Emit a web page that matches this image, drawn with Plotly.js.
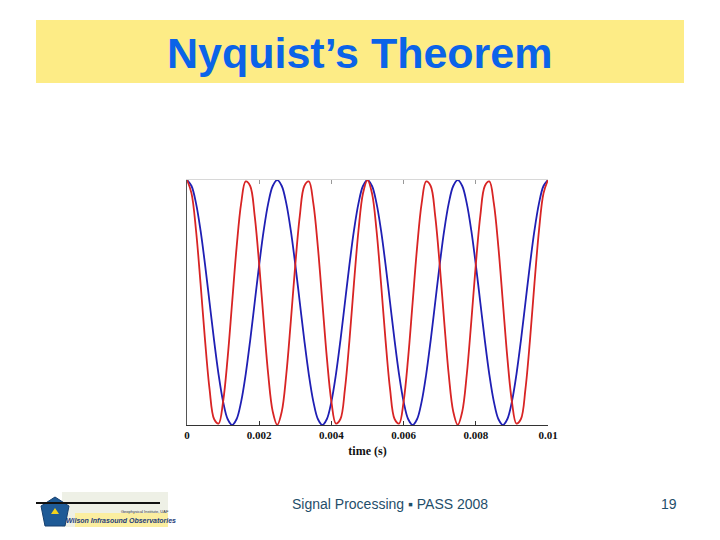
<!DOCTYPE html>
<html>
<head>
<meta charset="utf-8">
<script src="https://cdn.plot.ly/plotly-3.0.1.min.js"></script>
<style>html,body{margin:0;padding:0;background:#fff;}#chart{width:720px;height:540px;}</style>
</head>
<body>
<div id="chart"></div>
<script>
// time samples (s)
var timeS = [
0,0.000125,0.00025,0.000375,0.0005,0.000625,0.00075,0.000875,0.001,0.001125,
0.00125,0.001375,0.0015,0.001625,0.00175,0.001875,0.002,0.002125,0.00225,0.002375,
0.0025,0.002625,0.00275,0.002875,0.003,0.003125,0.00325,0.003375,0.0035,0.003625,
0.00375,0.003875,0.004,0.004125,0.00425,0.004375,0.0045,0.004625,0.00475,0.004875,
0.005,0.005125,0.00525,0.005375,0.0055,0.005625,0.00575,0.005875,0.006,0.006125,
0.00625,0.006375,0.0065,0.006625,0.00675,0.006875,0.007,0.007125,0.00725,0.007375,
0.0075,0.007625,0.00775,0.007875,0.008,0.008125,0.00825,0.008375,0.0085,0.008625,
0.00875,0.008875,0.009,0.009125,0.00925,0.009375,0.0095,0.009625,0.00975,0.009875,
0.01];
// red curve (600 Hz tone)
var redValues = [
1,0.891,0.588,0.156,-0.309,-0.707,-0.951,-0.988,-0.809,-0.454,
0,0.454,0.809,0.988,0.951,0.707,0.309,-0.156,-0.588,-0.891,
-1,-0.891,-0.588,-0.156,0.309,0.707,0.951,0.988,0.809,0.454,
0,-0.454,-0.809,-0.988,-0.951,-0.707,-0.309,0.156,0.588,0.891,
1,0.891,0.588,0.156,-0.309,-0.707,-0.951,-0.988,-0.809,-0.454,
0,0.454,0.809,0.988,0.951,0.707,0.309,-0.156,-0.588,-0.891,
-1,-0.891,-0.588,-0.156,0.309,0.707,0.951,0.988,0.809,0.454,
0,-0.454,-0.809,-0.988,-0.951,-0.707,-0.309,0.156,0.588,0.891,
1];
// blue curve (400 Hz tone)
var blueValues = [
1,0.951,0.809,0.588,0.309,0,-0.309,-0.588,-0.809,-0.951,
-1,-0.951,-0.809,-0.588,-0.309,0,0.309,0.588,0.809,0.951,
1,0.951,0.809,0.588,0.309,0,-0.309,-0.588,-0.809,-0.951,
-1,-0.951,-0.809,-0.588,-0.309,0,0.309,0.588,0.809,0.951,
1,0.951,0.809,0.588,0.309,0,-0.309,-0.588,-0.809,-0.951,
-1,-0.951,-0.809,-0.588,-0.309,0,0.309,0.588,0.809,0.951,
1,0.951,0.809,0.588,0.309,0,-0.309,-0.588,-0.809,-0.951,
-1,-0.951,-0.809,-0.588,-0.309,0,0.309,0.588,0.809,0.951,
1];
var tickVals = [0,0.002,0.004,0.006,0.008,0.01];
var tickLabels = ["0","0.002","0.004","0.006","0.008","0.01"];

var W = 720, H = 540;
function px(x){return x/W;}
function py(y){return 1 - y/H;}

var traces = [
  {x: timeS, y: blueValues, type: 'scatter', mode: 'lines',
   line: {color: '#1f1fb4', width: 1.8, shape: 'spline', smoothing: 1}, hoverinfo: 'skip'},
  {x: timeS, y: redValues, type: 'scatter', mode: 'lines',
   line: {color: '#d82424', width: 1.8, shape: 'spline', smoothing: 1}, hoverinfo: 'skip'},
  {x: [0], y: [0], xaxis: 'x2', type: 'scatter', mode: 'markers', marker: {opacity: 0}, hoverinfo: 'skip'}
];

var layout = {
  width: W, height: H,
  margin: {l: 0, r: 0, t: 0, b: 0},
  paper_bgcolor: '#ffffff', plot_bgcolor: '#ffffff',
  showlegend: false,
  xaxis: {
    domain: [px(187), px(548)], range: [0, 0.01], anchor: 'y',
    showgrid: false, zeroline: false,
    showline: true, linecolor: '#333333', linewidth: 1,
    ticks: 'inside', ticklen: 4, tickcolor: '#333333',
    tickvals: tickVals, ticktext: tickLabels,
    tickfont: {family: 'Liberation Serif, DejaVu Serif, serif', size: 11, color: '#111111', weight: 'bold'},
    title: {text: 'time (s)', standoff: 6,
      font: {family: 'Liberation Serif, DejaVu Serif, serif', size: 12, color: '#111111', weight: 'bold'}}
  },
  xaxis2: {
    domain: [px(187), px(548)], range: [0, 0.01], overlaying: 'x', side: 'top', anchor: 'y',
    showgrid: false, zeroline: false, showline: true, linecolor: '#d8d8d8', linewidth: 1,
    ticks: 'inside', ticklen: 4, tickcolor: '#999999', tickvals: tickVals, showticklabels: false
  },
  yaxis: {
    domain: [py(425), py(180)], range: [-1.0, 1.0],
    showgrid: false, zeroline: false, showticklabels: false,
    showline: true, linecolor: '#555555', linewidth: 1, ticks: ''
  },
  shapes: [
    {type: 'rect', xref: 'paper', yref: 'paper', x0: px(36), x1: px(684), y0: py(83), y1: py(20),
     fillcolor: '#fdec86', line: {width: 0}, layer: 'below'},
    // logo approximation
    {type: 'rect', xref: 'paper', yref: 'paper', x0: px(62), x1: px(168), y0: py(527), y1: py(492),
     fillcolor: '#eef0e6', line: {width: 0}, layer: 'below'},
    {type: 'rect', xref: 'paper', yref: 'paper', x0: px(75), x1: px(168), y0: py(527), y1: py(513),
     fillcolor: '#fbeea0', line: {width: 0}, layer: 'below'},
    {type: 'path', xref: 'paper', yref: 'paper',
     path: 'M ' + px(55) + ' ' + py(497) + ' L ' + px(69) + ' ' + py(506) + ' L ' + px(65) + ' ' + py(526) +
           ' L ' + px(45) + ' ' + py(526) + ' L ' + px(41) + ' ' + py(506) + ' Z',
     fillcolor: '#1e5a96', line: {color: '#163f6e', width: 1}},
    {type: 'path', xref: 'paper', yref: 'paper',
     path: 'M ' + px(55) + ' ' + py(508) + ' L ' + px(59) + ' ' + py(514) + ' L ' + px(51) + ' ' + py(514) + ' Z',
     fillcolor: '#f2d21c', line: {width: 0}},
    {type: 'line', xref: 'paper', yref: 'paper', x0: px(36), x1: px(160), y0: py(503), y1: py(503),
     line: {color: '#111111', width: 2}}
  ],
  annotations: [
    {xref: 'paper', yref: 'paper', x: px(360), y: py(53), text: 'Nyquist\u2019s Theorem', showarrow: false,
     xanchor: 'center', yanchor: 'middle',
     font: {family: 'Liberation Sans, Arial, sans-serif', size: 43, color: '#0b63e8', weight: 'bold'}},
    {xref: 'paper', yref: 'paper', x: px(390), y: py(504), text: 'Signal Processing \u25aa PASS 2008', showarrow: false,
     xanchor: 'center', yanchor: 'middle',
     font: {family: 'Liberation Sans, Arial, sans-serif', size: 14, color: '#1f4e6a'}},
    {xref: 'paper', yref: 'paper', x: px(669), y: py(504), text: '19', showarrow: false,
     xanchor: 'center', yanchor: 'middle',
     font: {family: 'Liberation Sans, Arial, sans-serif', size: 14, color: '#1f4e6a'}},
    {xref: 'paper', yref: 'paper', x: px(121), y: py(520), text: '<i><b>Wilson Infrasound Observatories</b></i>', showarrow: false,
     xanchor: 'center', yanchor: 'middle',
     font: {family: 'Liberation Sans, Arial, sans-serif', size: 7, color: '#1e3c78'}},
    {xref: 'paper', yref: 'paper', x: px(145), y: py(511), text: 'Geophysical Institute, UAF', showarrow: false,
     xanchor: 'center', yanchor: 'middle',
     font: {family: 'Liberation Sans, Arial, sans-serif', size: 4, color: '#333333'}}
  ]
};

Plotly.newPlot('chart', traces, layout, {staticPlot: true, displayModeBar: false});
</script>
</body>
</html>
